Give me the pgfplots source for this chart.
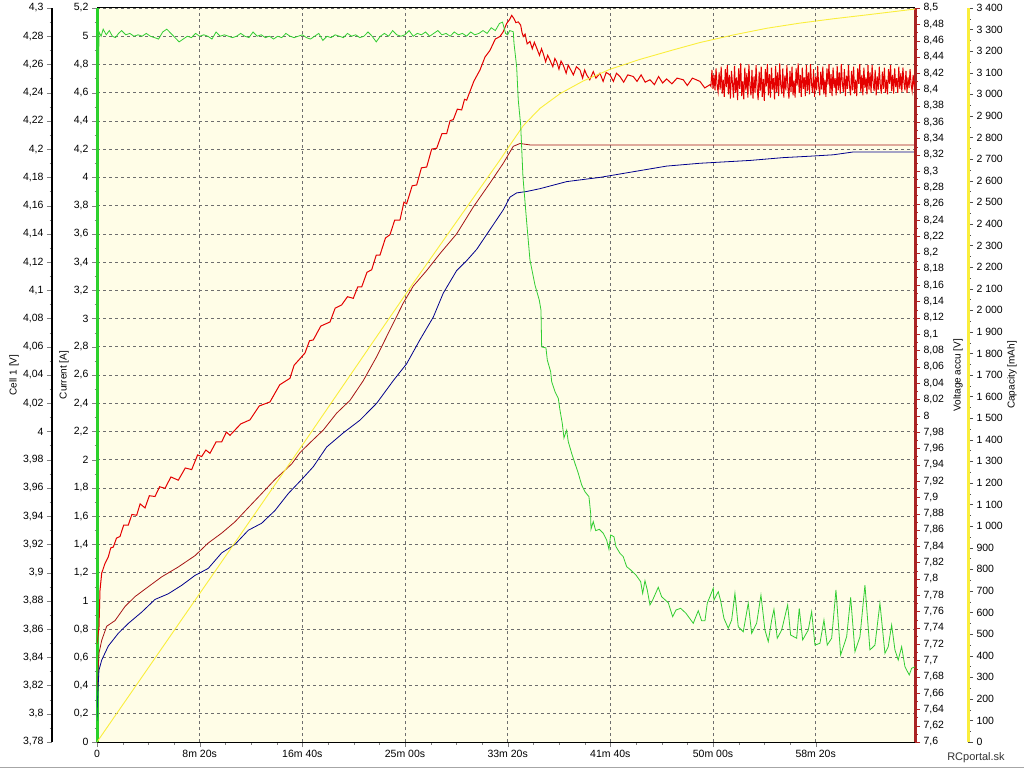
\documentclass[border=0pt]{standalone}
\usepackage{pgfplots}
\pgfplotsset{compat=1.18}
\usepackage{fontspec}
\setmainfont{Liberation Sans}
\definecolor{bgyel}{RGB}{255,253,231}
\definecolor{curgreen}{RGB}{50,205,50}
\definecolor{axgreen}{RGB}{40,210,40}
\definecolor{accred}{RGB}{228,0,0}
\definecolor{celldark}{RGB}{165,20,20}
\definecolor{cellblue}{RGB}{0,0,140}
\definecolor{capyel}{RGB}{250,238,60}
\definecolor{axred}{RGB}{170,35,35}
\definecolor{gridgray}{RGB}{110,110,110}
\pgfplotsset{
  base/.style={scale only axis, width=818pt, height=734pt, anchor=south west,
    xmin=0, xmax=3984,
    /pgf/number format/assume math mode=true,
    /pgf/number format/use comma,
    /pgf/number format/1000 sep={\ },
    tick label style={font=\fontsize{10.5}{12}\selectfont},
    label style={font=\fontsize{10.5}{12}\selectfont},
    tick align=outside,
    major tick length=5pt, minor tick length=2.5pt,
  },
  hid/.style={base, at={(97pt,26pt)}, hide axis},
}
\begin{document}
\begin{tikzpicture}
\path[use as bounding box] (0,0) rectangle (1024pt,768pt);
\fill[white] (0,0) rectangle (1024pt,768pt);
% main axis: current scale, grid, time axis
\begin{axis}[base, at={(97pt,26pt)}, ymin=0, ymax=5.2,
  axis background/.style={fill=bgyel},
  axis x line*=bottom, axis y line*=left,
  x axis line style={-, black, line width=1pt},
  y axis line style={-, axgreen, line width=3pt},
  xtick={0,500,1000,1500,2000,2500,3000,3500},
  xticklabels={0, 8m 20s, 16m 40s, 25m 00s, 33m 20s, 41m 40s, 50m 00s, 58m 20s},
  minor x tick num=3,
  ytick={0,0.2,0.4,0.6,0.8,1,1.2,1.4,1.6,1.8,2,2.2,2.4,2.6,2.8,3,3.2,3.4,3.6,3.8,4,4.2,4.4,4.6,4.8,5,5.2},
  minor y tick num=1,
  grid=major, grid style={gridgray, dash pattern=on 3pt off 3pt, line width=0.6pt},
  ylabel={Current [A]},
  every axis y label/.style={at={(axis description cs:-0.0403,0.5)}, rotate=90, anchor=center},
]
\end{axis}
% cell scale
\begin{axis}[base, at={(52pt,26pt)}, ymin=3.78, ymax=4.3,
  axis x line=none, axis y line*=left,
  y axis line style={-, black, line width=2.5pt},
  ytick={3.78,3.8,3.82,3.84,3.86,3.88,3.9,3.92,3.94,3.96,3.98,4,4.02,4.04,4.06,4.08,4.1,4.12,4.14,4.16,4.18,4.2,4.22,4.24,4.26,4.28,4.3},
  minor y tick num=1,
  ylabel={Cell 1 [V]},
  every axis y label/.style={at={(axis description cs:-0.0465,0.5)}, rotate=90, anchor=center},
]
\end{axis}
% capacity scale
\begin{axis}[base, at={(150pt,26pt)}, ymin=0, ymax=3400,
  axis x line=none, axis y line*=right,
  y axis line style={-, capyel, line width=3pt},
  ytick={0,100,...,3400}, minor y tick num=1,
  ytick style={black!70},
  ylabel={Capacity [mAh]},
  every axis y label/.style={at={(axis description cs:1.0538,0.5)}, rotate=90, anchor=center},
]
\end{axis}
% cell data
\begin{axis}[hid, ymin=3.78, ymax=4.3]
\addplot[celldark, line width=0.8pt] coordinates {
(0,3.815)(3.4,3.824)(9.7,3.843)(22.9,3.852)(47.2,3.862)(87.7,3.866)(136.4,3.876)(185.1,3.883)(249.8,3.890)(315.1,3.897)(395.9,3.904)(477.3,3.912)(542.0,3.921)(607.3,3.928)(672.1,3.936)(736.8,3.946)(802.1,3.956)(866.9,3.966)(948.2,3.977)(988.6,3.985)(1037.3,3.992)(1102.1,4.001)(1167.3,4.013)(1232.1,4.022)(1296.9,4.036)(1362.2,4.053)(1426.9,4.072)(1491.7,4.091)(1540.4,4.103)(1605.6,4.114)(1670.4,4.126)(1751.7,4.140)(1832.6,4.159)(1913.9,4.176)(1978.7,4.190)(2027.4,4.202)(2060.0,4.204)(2108.7,4.203)(2500,4.203)(3000,4.203)(3500,4.203)(3984,4.203)
};
\addplot[cellblue, line width=0.8pt] coordinates {
(0,3.795)(3.4,3.814)(9.7,3.831)(22.9,3.838)(55.0,3.848)(103.7,3.857)(152.4,3.864)(217.7,3.872)(282.5,3.881)(347.2,3.885)(412.5,3.891)(477.3,3.898)(542.0,3.903)(607.3,3.914)(672.1,3.920)(736.8,3.930)(802.1,3.935)(866.9,3.944)(931.6,3.956)(996.9,3.966)(1053.4,3.975)(1118.6,3.989)(1199.5,3.999)(1280.8,4.008)(1362.2,4.020)(1443.0,4.036)(1508.2,4.048)(1573.0,4.065)(1637.8,4.081)(1686.5,4.098)(1751.7,4.114)(1800.4,4.121)(1849.2,4.129)(1913.9,4.143)(1978.7,4.157)(2011.3,4.166)(2043.9,4.169)(2092.6,4.170)(2157.4,4.172)(2287.4,4.177)(2449.6,4.180)(2611.8,4.184)(2774.4,4.188)(2936.6,4.190)(3180.1,4.192)(3342.3,4.194)(3472.3,4.195)(3585.8,4.196)(3683.2,4.198)(3829.3,4.198)(3984,4.198)
};
\end{axis}
% accu voltage axis + data
\begin{axis}[base, at={(97pt,26pt)}, ymin=7.6, ymax=8.5,
  axis x line*=top, axis y line*=right,
  xtick=\empty,
  x axis line style={-, black, line width=1pt},
  y axis line style={-, axred, line width=3pt},
  ytick={7.6,7.62,7.64,7.66,7.68,7.7,7.72,7.74,7.76,7.78,7.8,7.82,7.84,7.86,7.88,7.9,7.92,7.94,7.96,7.98,8,8.02,8.04,8.06,8.08,8.1,8.12,8.14,8.16,8.18,8.2,8.22,8.24,8.26,8.28,8.3,8.32,8.34,8.36,8.38,8.4,8.42,8.44,8.46,8.48,8.5},
  minor y tick num=1, ytick style={axred},
  ylabel={Voltage accu [V]},
  every axis y label/.style={at={(axis description cs:1.0526,0.5)}, rotate=90, anchor=center},
]
\addplot[accred, line width=1pt] coordinates {
(0,7.72)(9.7,7.741)(14.6,7.786)(22.9,7.807)(39,7.819)(55,7.827)(67,7.838)(79.4,7.839)(95,7.85)(112,7.852)(130,7.866)(152.4,7.866)(170,7.879)(193.3,7.878)(210,7.892)(233.8,7.887)(255,7.902)(282.5,7.901)(305,7.913)(331.2,7.911)(360,7.925)(395.9,7.921)(430,7.936)(461.2,7.934)(490,7.952)(509.9,7.950)(530,7.958)(550.3,7.954)(580,7.968)(607.3,7.968)(630,7.980)(647.7,7.976)(700,7.990)(745.1,7.995)(790,8.012)(842.5,8.017)(890,8.038)(939.9,8.046)(960,8.062)(988.6,8.070)(1013,8.077)(1035,8.092)(1053.4,8.093)(1090,8.110)(1134.7,8.115)(1160,8.132)(1191.7,8.136)(1220,8.146)(1248.2,8.144)(1270,8.158)(1289.1,8.158)(1315,8.176)(1337.8,8.179)(1360,8.197)(1378.2,8.197)(1405,8.218)(1426.9,8.222)(1450,8.240)(1475.6,8.240)(1495,8.262)(1508.2,8.260)(1535,8.282)(1556.9,8.283)(1580,8.304)(1605.6,8.305)(1630,8.327)(1654.4,8.328)(1680,8.346)(1703,8.346)(1720,8.362)(1735.2,8.363)(1755,8.376)(1776.1,8.375)(1790,8.388)(1800.4,8.387)(1835,8.41)(1865.2,8.424)(1890,8.440)(1913.9,8.448)(1940,8.462)(1962.6,8.465)(1978.7,8.471)(1995.2,8.481)(2010,8.486)(2019.6,8.491)(2030.8,8.487)(2040,8.482)(2051.7,8.483)(2063.4,8.479)(2070,8.470)(2076.1,8.465)(2085,8.468)(2095,8.456)(2108.7,8.459)(2120,8.450)(2130,8.458)(2141.3,8.451)(2155,8.442)(2165,8.450)(2173.5,8.444)(2185,8.434)(2195,8.442)(2206.1,8.436)(2220,8.428)(2230,8.438)(2238.7,8.434)(2250,8.425)(2260,8.435)(2270.9,8.430)(2285,8.420)(2295,8.430)(2303.5,8.426)(2320,8.418)(2335,8.428)(2352.2,8.424)(2365,8.414)(2375,8.424)(2384.8,8.418)(2400,8.412)(2417,8.422)(2430,8.414)(2449.6,8.420)(2465,8.410)(2480,8.421)(2498.3,8.418)(2515,8.410)(2530,8.420)(2547,8.416)(2565,8.409)(2585,8.418)(2611.8,8.416)(2630,8.410)(2650,8.418)(2670,8.409)(2693.1,8.412)(2715,8.406)(2735,8.416)(2755,8.408)(2774.4,8.413)(2800,8.407)(2825,8.414)(2855.3,8.412)(2875,8.405)(2900,8.414)(2936.6,8.410)(2960,8.402)(2985.3,8.406)
(2990,8.404)(2995,8.424)(3000,8.401)(3005,8.418)(3010,8.399)(3015,8.426)(3020,8.405)(3025,8.397)(3030,8.421)(3035,8.400)(3040,8.428)(3045,8.395)(3050,8.412)(3055,8.391)(3060,8.425)(3065,8.403)(3070,8.430)(3075,8.394)(3080,8.418)(3085,8.389)(3090,8.423)(3095,8.408)(3100,8.390)(3105,8.429)(3110,8.396)(3115,8.415)(3120,8.387)(3125,8.426)(3130,8.401)(3135,8.432)(3140,8.392)(3145,8.410)(3150,8.388)(3155,8.427)(3160,8.399)(3165,8.420)(3170,8.390)(3175,8.431)(3180,8.405)(3185,8.393)(3190,8.424)(3195,8.389)(3200,8.416)(3205,8.396)(3210,8.430)(3215,8.402)(3220,8.387)(3225,8.422)(3230,8.398)(3235,8.428)(3240,8.391)(3245,8.413)(3250,8.386)(3255,8.425)(3260,8.404)(3265,8.431)(3270,8.393)(3275,8.419)(3280,8.390)(3285,8.427)(3290,8.400)(3295,8.414)(3300,8.388)(3305,8.429)(3310,8.397)(3315,8.421)(3320,8.392)(3325,8.432)(3330,8.406)(3335,8.395)(3340,8.426)(3345,8.390)(3350,8.417)(3355,8.399)(3360,8.430)(3365,8.403)(3370,8.389)(3375,8.423)(3380,8.397)(3385,8.428)(3390,8.393)(3395,8.411)(3400,8.390)(3405,8.426)(3410,8.405)(3415,8.432)(3420,8.396)(3425,8.418)(3430,8.391)(3435,8.427)(3440,8.401)(3445,8.415)(3450,8.392)(3455,8.430)(3460,8.398)(3465,8.421)(3470,8.394)(3475,8.431)(3480,8.407)(3485,8.396)(3490,8.425)(3495,8.391)(3500,8.416)(3505,8.399)(3510,8.429)(3515,8.404)(3520,8.393)(3525,8.422)(3530,8.400)(3535,8.428)(3540,8.394)(3545,8.412)(3550,8.391)(3555,8.426)(3560,8.406)(3565,8.431)(3570,8.396)(3575,8.419)(3580,8.392)(3585,8.427)(3590,8.402)(3595,8.414)(3600,8.393)(3605,8.429)(3610,8.399)(3615,8.421)(3620,8.395)(3625,8.431)(3630,8.408)(3635,8.397)(3640,8.425)(3645,8.392)(3650,8.417)(3655,8.401)(3660,8.430)(3665,8.404)(3670,8.393)(3675,8.423)(3680,8.399)(3685,8.428)(3690,8.395)(3695,8.412)(3700,8.392)(3705,8.426)(3710,8.407)(3715,8.431)(3720,8.397)(3725,8.418)(3730,8.393)(3735,8.427)(3740,8.402)(3745,8.415)(3750,8.394)(3755,8.430)(3760,8.400)(3765,8.421)(3770,8.396)(3775,8.430)(3780,8.408)(3785,8.398)(3790,8.424)(3795,8.393)(3800,8.416)(3805,8.400)(3810,8.428)(3815,8.405)(3820,8.395)(3825,8.422)(3830,8.401)(3835,8.427)(3840,8.396)(3845,8.412)(3850,8.394)(3855,8.425)(3860,8.407)(3865,8.430)(3870,8.398)(3875,8.418)(3880,8.395)(3885,8.426)(3890,8.403)(3895,8.414)(3900,8.396)(3905,8.428)(3910,8.401)(3915,8.420)(3920,8.397)(3925,8.427)(3930,8.409)(3935,8.399)(3940,8.423)(3945,8.396)(3950,8.415)(3955,8.402)(3960,8.425)(3965,8.406)(3970,8.398)(3975,8.418)(3980,8.404)(3984,8.410)
};
\end{axis}
% capacity data
\begin{axis}[hid, ymin=0, ymax=3400]
\addplot[capyel, line width=0.9pt] coordinates {
(0,0)(1000,1375)(1540,2125)(1962.6,2696)(2011.3,2765)(2076.1,2855)(2157.4,2935)(2254.8,3003)(2368.3,3062)(2498.3,3116)(2644.4,3162)(2806.6,3206)(2936.6,3240)(3098.8,3275)(3261.4,3306)(3423.6,3330)(3585.8,3350)(3748.4,3368)(3983.7,3395)
};
\end{axis}
% current data
\begin{axis}[hid, ymin=0, ymax=5.2]
\addplot[curgreen, line width=0.8pt] coordinates {
(0,0)(3,5.04)(6,4.62)(10,5.03)(20,5.0)(30,5.05)(45,5.01)(60,5.04)(75,5.0)(90,4.99)(105,5.02)(120,5.04)(140,5.01)(160,5.02)(180,5.0)(200,5.01)(220,5.0)(240,5.02)(260,5.0)(280,4.99)(300,4.98)(320,5.03)(340,5.05)(360,5.02)(380,4.99)(400,4.96)(420,4.98)(440,5.0)(460,4.99)(480,5.02)(500,5.0)(520,5.01)(540,5.0)(560,4.98)(580,5.03)(600,5.0)(620,5.01)(640,5.0)(660,4.99)(680,5.0)(700,5.02)(720,5.0)(740,4.99)(760,5.03)(780,5.0)(800,5.01)(820,4.99)(840,5.0)(860,4.98)(880,5.0)(900,4.99)(920,5.02)(940,5.0)(960,4.99)(980,5.0)(1000,5.01)(1020,4.99)(1040,4.98)(1060,5.0)(1080,5.02)(1100,4.97)(1120,5.0)(1140,4.99)(1160,5.01)(1180,5.0)(1200,4.99)(1220,5.02)(1240,5.0)(1260,5.01)(1280,4.99)(1300,5.0)(1320,5.03)(1340,5.0)(1360,4.96)(1380,5.0)(1400,5.02)(1420,5.0)(1440,5.04)(1460,5.01)(1480,5.0)(1500,5.01)(1520,5.04)(1540,5.0)(1560,5.02)(1580,5.01)(1600,5.03)(1620,5.0)(1640,5.02)(1660,5.04)(1680,5.01)(1700,5.02)(1720,5.0)(1740,5.03)(1760,5.01)(1780,5.02)(1800,5.0)(1820,5.03)(1840,5.01)(1860,5.02)(1880,5.04)(1900,5.02)(1920,5.06)(1940,5.04)(1960,5.09)(1975,5.1)(1990,5.02)(2000,5.01)(2010,5.04)
(2027.4,5.032)(2030.8,4.952)(2043.9,4.783)(2051.7,4.548)(2063.4,4.371)(2074.6,4.003)(2092.6,3.684)(2108.7,3.415)(2133,3.238)(2154,3.131)(2162.3,3.060)(2165.7,2.799)(2186.6,2.792)(2193,2.707)(2209.5,2.623)(2214.4,2.553)(2230.5,2.482)(2246.6,2.435)(2254.8,2.352)(2266,2.258)(2274.3,2.154)(2287.4,2.210)(2295.2,2.128)(2311.8,2.045)(2327.8,1.974)(2343.9,1.904)(2360.5,1.821)(2376.6,1.773)(2396,1.738)(2404.3,1.620)(2405.8,1.507)(2417,1.561)(2428.7,1.497)(2446.2,1.507)(2465.7,1.479)(2482.2,1.431)(2493.4,1.365)(2501.7,1.467)(2517.8,1.454)(2527.5,1.384)(2547,1.337)(2563.1,1.313)(2579.6,1.242)(2599.1,1.219)(2624.9,1.183)(2647.8,1.136)(2657.6,1.053)(2668.8,1.143)(2680,1.077)(2693.1,0.971)(2706.3,1.006)(2733.5,1.096)(2750.1,1.029)(2782.2,0.987)(2803.6,0.888)(2819.7,0.935)(2842.6,0.947)(2868.4,0.912)(2904,0.841)(2928.3,0.930)(2944.9,0.859)(2961,0.859)(2972.2,0.983)(3001.4,1.089)(3004.8,1.006)(3025.7,1.065)(3037.4,1.0)(3053.5,0.876)(3074.4,0.806)(3091,0.864)(3107,1.053)(3123.1,0.817)(3147.5,0.781)(3171.8,0.983)(3188.4,0.770)(3212.7,0.841)(3233.7,1.041)(3253.2,0.793)(3269.3,0.711)(3285.8,0.864)(3297,0.940)(3313.1,0.735)(3334.5,0.793)(3363.7,0.971)(3378.3,0.758)(3407.5,0.735)(3420.2,0.947)(3436.8,0.723)(3464,0.793)(3480.6,0.923)(3496.7,0.687)(3521,0.699)(3540.5,0.864)(3556.6,0.687)(3578,0.735)(3599,1.077)(3621.8,0.616)(3651.1,0.746)(3670.6,1.025)(3691.5,0.640)(3715.8,0.746)(3740.2,1.112)(3764.5,0.652)(3788.9,0.687)(3813.2,0.983)(3837.6,0.628)(3853.6,0.675)(3870.2,0.829)(3886.3,0.652)(3902.3,0.581)(3918.9,0.675)(3935,0.533)(3955.9,0.475)(3967.6,0.522)(3983.7,0.533)
};
\end{axis}
\draw[black!35, line width=1pt] (0,1pt) -- (1024pt,1pt);
\node[font=\fontsize{11}{13}\selectfont, text=black!80] at (976pt,10pt) {RCportal.sk};
\end{tikzpicture}
\end{document}
